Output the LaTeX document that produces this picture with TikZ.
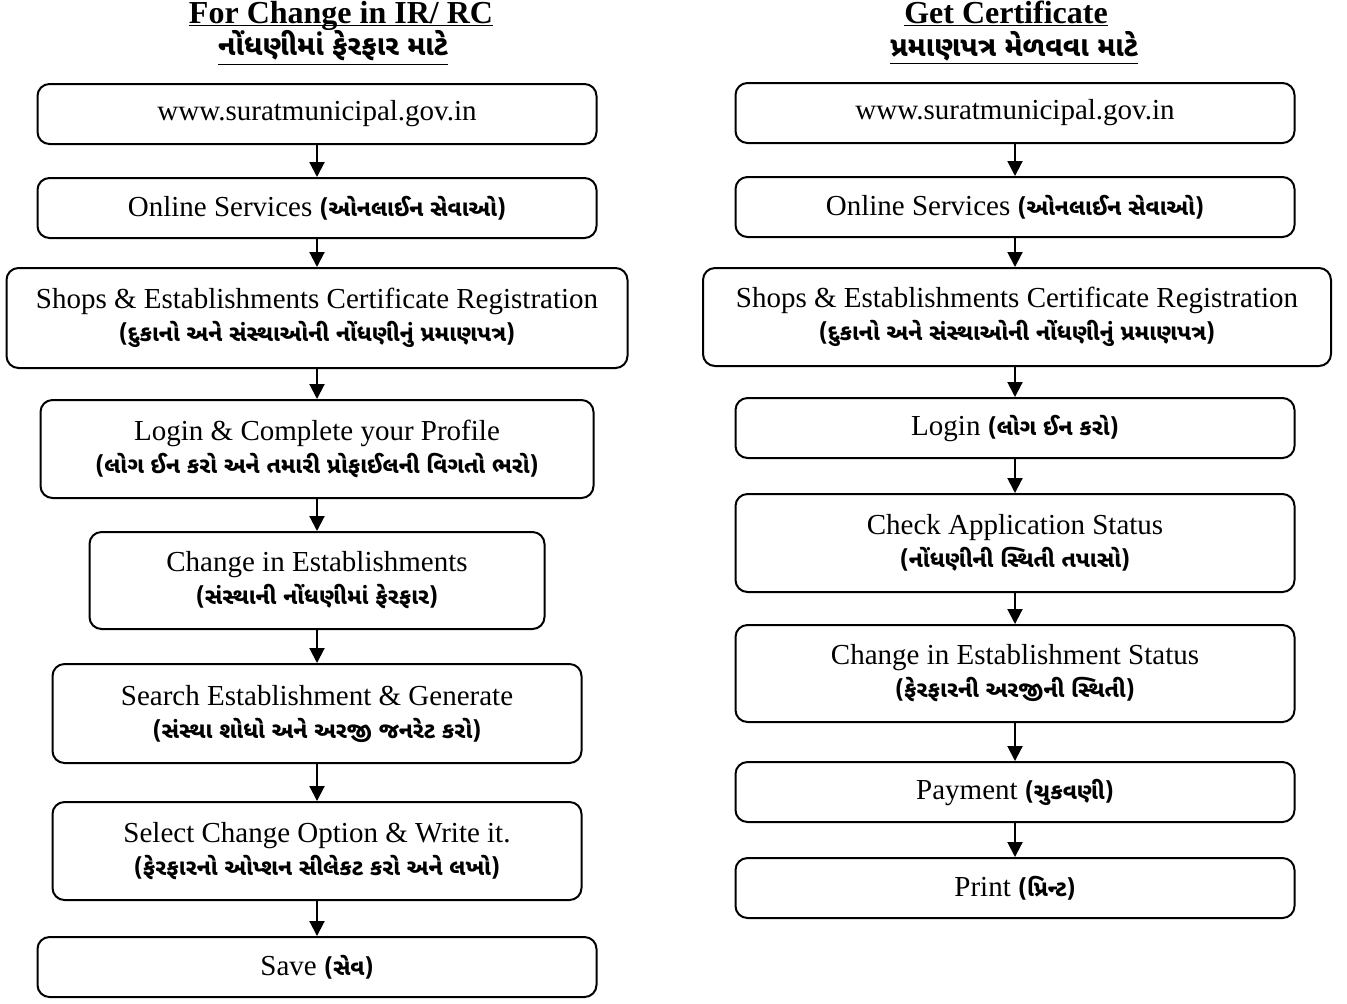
\documentclass[tikz,border=0pt]{standalone}
\usepackage{fontspec}
\setmainfont{Liberation Serif}
\newfontfamily\gujfont[Script=Gujarati]{Noto Sans Gujarati UI}
\usetikzlibrary{arrows.meta}
\newcommand{\gu}[1]{{\gujfont\bfseries\fontsize{11.3}{16.5}\selectfont #1}}
\newcommand{\guhead}[1]{{\gujfont\bfseries\fontsize{14}{16}\selectfont #1}}
\begin{document}
\begin{tikzpicture}[x=0.5pt,y=-0.5pt,
    stepbox/.style={draw,line width=1pt,rounded corners=6pt,align=center,inner sep=0pt,
        font=\fontsize{14.5}{16.5}\selectfont},
    flow/.style={line width=1pt,-{Triangle[length=7.5pt,width=7.5pt]}},
    heading/.style={font=\fontsize{16}{18}\selectfont\bfseries,inner sep=0pt}]
\useasboundingbox (0,0) rectangle (1347,1003);
% headings
\node[heading,anchor=base] (lhead) at (341,23) {\underline{\smash{For Change in IR/ RC}}};
\node[heading] (lsub) at (333,48) {\underline{\guhead{નોંધણીમાં ફેરફાર માટે}}};
\node[heading,anchor=base] (rhead) at (1006,23) {\underline{\smash{Get Certificate}}};
\node[heading] (rsub) at (1014,48) {\underline{\guhead{પ્રમાણપત્ર મેળવવા માટે}}};
% left column
\node[stepbox,minimum width=279.5pt,minimum height=30pt] (l1) at (317,114) {www.suratmunicipal.gov.in};
\node[stepbox,minimum width=279.5pt,minimum height=30pt] (l2) at (317,208) {Online Services \gu{(ઓનલાઈન સેવાઓ)}};
\node[stepbox,minimum width=310.5pt,minimum height=50pt] (l3) at (317,318) {Shops \& Establishments Certificate Registration\\ \gu{(દુકાનો અને સંસ્થાઓની નોંધણીનું પ્રમાણપત્ર)}};
\node[stepbox,minimum width=276.5pt,minimum height=49pt] (l4) at (317,449) {Login \& Complete your Profile\\ \gu{(લોગ ઈન કરો અને તમારી પ્રોફાઈલની વિગતો ભરો)}};
\node[stepbox,minimum width=227.5pt,minimum height=48.5pt] (l5) at (317,580.5) {Change in Establishments\\ \gu{(સંસ્થાની નોંધણીમાં ફેરફાર)}};
\node[stepbox,minimum width=264.5pt,minimum height=49.5pt] (l6) at (317,713.5) {Search Establishment \& Generate\\ \gu{(સંસ્થા શોધો અને અરજી જનરેટ કરો)}};
\node[stepbox,minimum width=264.5pt,minimum height=49pt] (l7) at (317,851) {Select Change Option \& Write it.\\ \gu{(ફેરફારનો ઓપ્શન સીલેકટ કરો અને લખો)}};
\node[stepbox,minimum width=279.5pt,minimum height=30pt] (l8) at (317,967) {Save \gu{(સેવ)}};
% right column
\node[stepbox,minimum width=279.5pt,minimum height=30pt] (r1) at (1015,113) {www.suratmunicipal.gov.in};
\node[stepbox,minimum width=279.5pt,minimum height=30pt] (r2) at (1015,207) {Online Services \gu{(ઓનલાઈન સેવાઓ)}};
\node[stepbox,minimum width=314pt,minimum height=49pt] (r3) at (1017,317) {Shops \& Establishments Certificate Registration\\ \gu{(દુકાનો અને સંસ્થાઓની નોંધણીનું પ્રમાણપત્ર)}};
\node[stepbox,minimum width=279.5pt,minimum height=30pt] (r4) at (1015,428) {Login \gu{(લોગ ઈન કરો)}};
\node[stepbox,minimum width=279.5pt,minimum height=49pt] (r5) at (1015,543) {Check Application Status\\ \gu{(નોંધણીની સ્થિતી તપાસો)}};
\node[stepbox,minimum width=279.5pt,minimum height=48.5pt] (r6) at (1015,673.5) {Change in Establishment Status\\ \gu{(ફેરફારની અરજીની સ્થિતી)}};
\node[stepbox,minimum width=279.5pt,minimum height=30pt] (r7) at (1015,792) {Payment \gu{(ચુકવણી)}};
\node[stepbox,minimum width=279.5pt,minimum height=30pt] (r8) at (1015,888) {Print \gu{(પ્રિન્ટ)}};
% arrows
\foreach \a/\b in {l1/l2,l2/l3,l3/l4,l4/l5,l5/l6,l6/l7,l7/l8}
    \draw[flow] (\a.south) -- (\b.north);
\foreach \a/\b in {r1/r2,r2/r3,r3/r4,r4/r5,r5/r6,r6/r7,r7/r8}
    \draw[flow] (\a.south -| r1) -- (\b.north -| r1);
\end{tikzpicture}
\end{document}
